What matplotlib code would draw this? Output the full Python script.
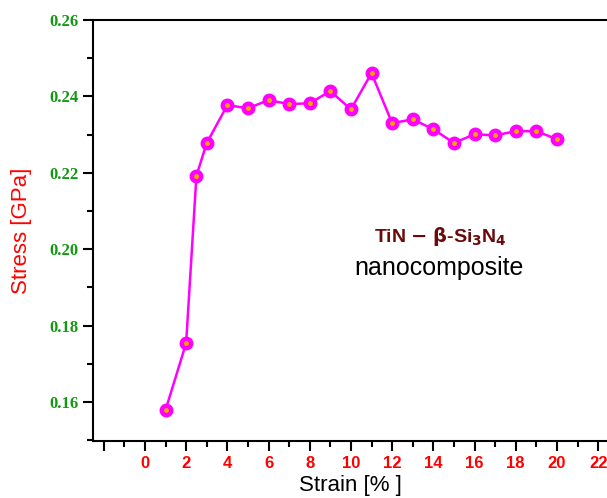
import matplotlib.pyplot as plt
from matplotlib.ticker import MultipleLocator

strain = [1, 2, 2.5, 3, 4, 5, 6, 7, 8, 9, 10, 11, 12, 13, 14, 15, 16, 17, 18, 19, 20]
stress = [0.1579, 0.1754, 0.2192, 0.2278, 0.2377, 0.2369, 0.2390, 0.2380, 0.2382,
          0.2414, 0.2366, 0.2461, 0.2330, 0.2340, 0.2314, 0.2278, 0.2301, 0.2298,
          0.2309, 0.2309, 0.2288]

fig = plt.figure(figsize=(6.07, 4.98), dpi=100)
ax = fig.add_axes([93/607, 1-441/498, 1-93/607, (441-20)/498])

ax.plot(strain, stress, color='#ff00ff', lw=1.8, marker='o', ms=9,
        markerfacecolor='#ff00ff', markeredgecolor='#ff00ff', zorder=3)
# little orange highlight on every bead
ax.plot(strain, stress, ls='none', marker='o', ms=2.5, color='#ffa500', zorder=4)

ax.set_xlim(-2.52, 22.43)
ax.set_ylim(0.1498, 0.26)
ax.xaxis.set_major_locator(MultipleLocator(2))
ax.xaxis.set_minor_locator(MultipleLocator(1))
ax.yaxis.set_major_locator(MultipleLocator(0.02))
ax.yaxis.set_minor_locator(MultipleLocator(0.01))

ax.spines['right'].set_visible(False)
for s in ['left', 'bottom', 'top']:
    ax.spines[s].set_linewidth(1.5)
ax.tick_params(which='major', direction='out', length=7, width=1.5, top=False, right=False)
ax.tick_params(which='minor', direction='out', length=4, width=1.5, top=False, right=False)

xt = list(range(-2, 23, 2))
ax.set_xticks(xt)
ax.set_xticklabels(['' if v < 0 else str(v) for v in xt],
                   color='red', fontweight='bold', fontsize=12, family='Liberation Sans')
yt = [0.16, 0.18, 0.20, 0.22, 0.24, 0.26]
ax.set_yticks(yt)
ax.set_yticklabels(['%.2f' % v for v in yt], color='#119911', fontweight='bold',
                   fontsize=12, family='Liberation Serif')

ax.set_xlabel('Strain [% ]', fontsize=16, family='Liberation Sans', labelpad=3)
ax.set_ylabel('Stress [GPa]', fontsize=16, family='Liberation Sans', color='red', labelpad=12)

ax.text(14.35, 0.2032, r'TiN $\mathbf{-}$ $\mathbf{\beta}$-Si$_\mathbf{3}$N$_\mathbf{4}$',
        color='#6b0a0a', fontweight='bold', fontsize=14, family='Liberation Sans',
        ha='center', va='center')
ax.text(14.3, 0.1951, 'nanocomposite', color='black', fontsize=18,
        family='Liberation Sans', ha='center', va='center')

fig.savefig('out.png', dpi=100)
